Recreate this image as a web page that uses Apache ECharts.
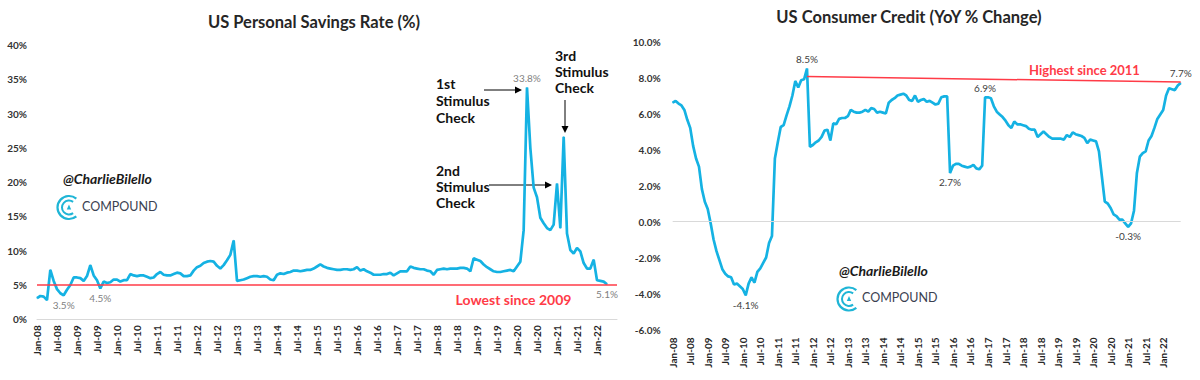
<!DOCTYPE html>
<html>
<head>
<meta charset="utf-8">
<script src="https://cdn.jsdelivr.net/npm/echarts@6/dist/echarts.min.js"></script>
<style>
html,body{margin:0;padding:0;background:#fff;}
#chart{width:1200px;height:380px;}
</style>
</head>
<body>
<div id="chart"></div>
<script>
// ---------- DATA ----------
const MONTHS = ['Jan','Feb','Mar','Apr','May','Jun','Jul','Aug','Sep','Oct','Nov','Dec'];
const YEARS = ['08','09','10','11','12','13','14','15','16','17','18','19','20','21','22'];
const N_CATEGORIES = 175; // Jan-08 .. Jul-22
const LABEL_EVERY = 6;
const LAST_LABEL_INDEX = 168; // Jan-22

// US Personal Savings Rate (%), monthly from Jan-08
const savingsRate = [
  3.1, 3.4, 3.3, 2.8, 7.2, 5.6, 4.4, 3.8, 3.5, 4.3, 5.0, 6.1,
  6.1, 6.0, 5.6, 6.3, 7.9, 6.4, 5.7, 4.5, 5.5, 5.3, 5.4, 5.8,
  5.8, 5.5, 5.7, 5.7, 6.6, 6.4, 6.3, 6.4, 6.4, 6.2, 6.0, 6.1,
  6.6, 6.9, 6.5, 6.4, 6.4, 6.6, 6.8, 6.7, 6.3, 6.3, 6.4, 7.1,
  7.6, 7.8, 8.2, 8.4, 8.5, 8.4, 7.8, 7.4, 7.9, 8.6, 9.4, 11.5,
  5.6, 5.7, 5.8, 6.0, 6.2, 6.3, 6.3, 6.2, 6.3, 6.2, 5.8, 5.7,
  6.5, 6.7, 6.6, 6.8, 6.9, 7.1, 7.1, 7.0, 7.1, 7.2, 7.2, 7.4,
  7.7, 8.0, 7.7, 7.5, 7.4, 7.3, 7.2, 7.2, 7.3, 7.3, 7.2, 7.3,
  7.6, 7.1, 7.3, 7.0, 6.8, 6.5, 6.5, 6.5, 6.6, 6.6, 6.8, 6.4,
  6.7, 7.0, 7.0, 7.0, 7.7, 7.5, 7.4, 7.3, 7.3, 7.1, 7.0, 6.5,
  7.2, 7.3, 7.4, 7.3, 7.4, 7.4, 7.4, 7.5, 7.5, 7.4, 7.0, 8.9,
  8.7, 8.5, 8.0, 7.6, 7.3, 7.0, 6.9, 6.9, 7.0, 7.1, 7.2, 7.0,
  7.7, 8.4, 13.0, 33.8, 25.0, 19.2, 17.8, 14.8, 14.0, 13.3, 13.0, 13.8,
  19.8, 13.3, 26.6, 12.5, 10.1, 9.6, 10.4, 9.9, 8.2, 7.4, 7.4, 8.7,
  5.7, 5.6, 5.5, 5.1
];

// US Consumer Credit (YoY % change), monthly from Jan-08
const consumerCredit = [
  6.6, 6.7, 6.55, 6.45, 6.2, 5.65, 5.2, 4.2, 3.5, 3.05, 1.8, 1.1,
  0.7, -0.1, -1.0, -1.65, -2.15, -2.65, -2.9, -3.05, -3.1, -3.5, -3.45, -3.6,
  -3.75, -4.1, -3.45, -3.1, -3.4, -2.8, -2.6, -2.3, -2.0, -1.2, -0.8, 3.5,
  4.4, 5.25, 5.35, 5.9, 6.4, 7.0, 7.8, 7.45, 7.85, 7.9, 8.5, 4.15,
  4.25, 4.4, 4.5, 4.7, 5.05, 5.1, 4.5, 5.45, 5.4, 5.7, 5.75, 5.75,
  5.85, 6.2, 6.1, 6.05, 6.05, 6.1, 6.2, 6.1, 6.3, 6.25, 6.05, 6.1,
  6.05, 6.0, 6.6, 6.75, 6.85, 7.0, 7.05, 7.1, 7.0, 6.75, 6.7, 7.0,
  6.65, 6.75, 6.8, 6.65, 6.7, 6.6, 6.5, 6.55, 6.9, 6.95, 6.95, 2.7,
  3.1, 3.2, 3.2, 3.1, 3.05, 3.0, 3.05, 3.15, 2.95, 2.9, 3.1, 6.9,
  6.9, 6.85, 6.4, 6.1, 5.95, 5.8, 5.6, 5.35, 5.2, 5.55, 5.4, 5.4,
  5.35, 5.3, 5.15, 5.1, 5.1, 4.7, 4.85, 5.0, 4.85, 4.7, 4.6, 4.6,
  4.6, 4.6, 4.55, 4.8, 4.7, 4.95, 4.85, 4.8, 4.75, 4.65, 4.35, 4.55,
  4.5, 4.45, 3.9, 2.5, 1.1, 1.0, 0.75, 0.4, 0.3, 0.1, 0.1, -0.1,
  -0.3, -0.1, 0.6, 2.7, 3.6, 3.8, 3.9, 4.5, 4.75, 5.2, 5.7, 5.95,
  6.2, 7.0, 7.4, 7.35, 7.3, 7.55, 7.7
];

// labelled points: index -> label position
const savingsLabels = {8: 'bottom', 19: 'bottom', 147: 'top', 171: 'bottom'};
const creditLabels = {25: 'bottom', 46: 'top', 95: 'bottom', 107: 'top', 156: 'bottom', 174: 'top'};

const SAVINGS_FLOOR = 5.0;            // "Lowest since 2009" line level
const CREDIT_HIGH_START = [46, 8.05]; // "Highest since 2011" line
const CREDIT_HIGH_END = [174, 7.75];

const categories = YEARS.flatMap(y => MONTHS.map(m => m + '-' + y)).slice(0, N_CATEGORIES);

// ---------- STYLE ----------
const LINE = '#15b2e3';
const RED = '#ff3b47';
const FONT = 'Lato';

function withLabels(values, labels, color) {
  return values.map((v, i) => labels[i] ? {
    value: v,
    label: {show: true, position: labels[i], distance: 4, color: color, fontSize: 10, fontFamily: FONT,
            formatter: p => p.value.toFixed(1) + '%'}
  } : v);
}

const xAxisBase = {
  type: 'category', data: categories, boundaryGap: false,
  axisTick: {show: false}, splitLine: {show: false},
  axisLabel: {
    interval: (idx) => idx % LABEL_EVERY === 0 && idx <= LAST_LABEL_INDEX,
    rotate: 90, fontSize: 10, fontWeight: 'bold', color: '#262626', fontFamily: FONT
  }
};

const chart = echarts.init(document.getElementById('chart'), null, {renderer: 'svg', width: 1200, height: 380});

function arrow(x1, y1, x2, y2) {
  const dx = x2 - x1, dy = y2 - y1, len = Math.hypot(dx, dy);
  const ux = dx / len, uy = dy / len, hl = 7, hw = 3.5;
  const bx = x2 - ux * hl, by = y2 - uy * hl;
  return [
    {type: 'line', shape: {x1, y1, x2: bx, y2: by}, style: {stroke: '#000', lineWidth: 1}},
    {type: 'polygon', shape: {points: [[x2, y2], [bx - uy * hw, by + ux * hw], [bx + uy * hw, by - ux * hw]]}, style: {fill: '#000'}}
  ];
}

function txt(x, y, text, font, fill, align, vAlign, lineHeight) {
  return {type: 'text', x, y, style: {text, font, fill, align: align || 'left', textAlign: align || 'left',
    verticalAlign: vAlign || 'middle', textVerticalAlign: vAlign || 'middle', lineHeight: lineHeight}};
}

function logo(cx, cy) {
  return [
    {type: 'arc', shape: {cx, cy, r: 11.5, startAngle: Math.PI * 0.28, endAngle: Math.PI * 1.72, clockwise: true},
     style: {stroke: '#1fb5d6', lineWidth: 2.2, fill: null}},
    {type: 'arc', shape: {cx, cy, r: 7, startAngle: Math.PI * 0.3, endAngle: Math.PI * 1.7, clockwise: true},
     style: {stroke: '#1fb5d6', lineWidth: 2, fill: null}},
    {type: 'polygon', shape: {points: [[cx, cy - 3], [cx - 2.2, cy + 2], [cx + 2.2, cy + 2]]}, style: {fill: '#1fb5d6'}}
  ];
}

const graphics = [
  txt(314, 21.5, 'US Personal Savings Rate (%)', 'bold 16.5px Lato', '#262626', 'center'),
  txt(909, 16.5, 'US Consumer Credit (YoY % Change)', 'bold 16.5px Lato', '#262626', 'center'),
  txt(436, 74.5, '1st\nStimulus\nCheck', 'bold 14px Lato', '#111', 'left', 'top', 17),
  txt(436, 162, '2nd\nStimulus\nCheck', 'bold 14px Lato', '#111', 'left', 'top', 16),
  txt(555, 47, '3rd\nStimulus\nCheck', 'bold 14px Lato', '#111', 'left', 'top', 16),
  ...arrow(484, 90, 522, 90),
  ...arrow(489, 185, 552, 185),
  ...arrow(565, 100, 565, 133),
  txt(513.5, 299, 'Lowest since 2009', 'bold 14px Lato', RED, 'center'),
  txt(1084.5, 70, 'Highest since 2011', 'bold 13px Lato', RED, 'center'),
  txt(63, 178, '@CharlieBilello', 'italic bold 14px Lato', '#1a1a1a', 'left'),
  txt(82, 206, 'COMPOUND', '12.5px Lato', '#3a4150', 'left'),
  ...logo(69, 207.5),
  txt(839, 270, '@CharlieBilello', 'italic bold 14px Lato', '#1a1a1a', 'left'),
  txt(862, 297.5, 'COMPOUND', '12.5px Lato', '#3a4150', 'left'),
  ...logo(849, 299)
];

chart.setOption({
  animation: false,
  textStyle: {fontFamily: FONT},
  grid: [
    {left: 37, top: 45, width: 580, height: 274.3},
    {left: 672.7, top: 41.5, width: 508, height: 288}
  ],
  xAxis: [
    Object.assign({}, xAxisBase, {gridIndex: 0,
      axisLine: {show: true, lineStyle: {color: '#d9d9d9', width: 1}},
      axisLabel: Object.assign({}, xAxisBase.axisLabel, {margin: 6})}),
    Object.assign({}, xAxisBase, {gridIndex: 1,
      axisLine: {show: false, onZero: false},
      axisLabel: Object.assign({}, xAxisBase.axisLabel, {margin: 8})})
  ],
  yAxis: [
    {gridIndex: 0, type: 'value', min: 0, max: 40, interval: 5,
     axisLine: {show: false}, axisTick: {show: false}, splitLine: {show: false},
     axisLabel: {formatter: v => v + '%', margin: 10, fontSize: 10, fontWeight: 'bold', color: '#333', fontFamily: FONT}},
    {gridIndex: 1, type: 'value', min: -6, max: 10, interval: 2,
     axisLine: {show: false}, axisTick: {show: false}, splitLine: {show: false},
     axisLabel: {formatter: v => v.toFixed(1) + '%', margin: 12, fontSize: 10, fontWeight: 'bold', color: '#333', fontFamily: FONT}}
  ],
  series: [
    {type: 'line', xAxisIndex: 0, yAxisIndex: 0, data: withLabels(savingsRate, savingsLabels, '#7f7f7f'),
     symbol: 'circle', symbolSize: 1, showSymbol: true, showAllSymbol: true,
     lineStyle: {color: LINE, width: 2.7}, itemStyle: {color: LINE}, z: 3,
     markLine: {silent: true, symbol: ['none', 'none'], label: {show: false}, animation: false,
       data: [{yAxis: SAVINGS_FLOOR, lineStyle: {color: RED, width: 1.5, type: 'solid'}}]}},
    {type: 'line', xAxisIndex: 1, yAxisIndex: 1, data: withLabels(consumerCredit, creditLabels, '#404040'),
     symbol: 'circle', symbolSize: 1, showSymbol: true, showAllSymbol: true,
     lineStyle: {color: LINE, width: 2.7}, itemStyle: {color: LINE}, z: 3,
     markLine: {silent: true, symbol: ['none', 'none'], label: {show: false}, animation: false,
       data: [
         {yAxis: 0, lineStyle: {color: '#d9d9d9', width: 1, type: 'solid'}},
         [{coord: CREDIT_HIGH_START, lineStyle: {color: RED, width: 1.5, type: 'solid'}}, {coord: CREDIT_HIGH_END}]
       ]}}
  ],
  graphic: {elements: graphics}
});
</script>
</body>
</html>
